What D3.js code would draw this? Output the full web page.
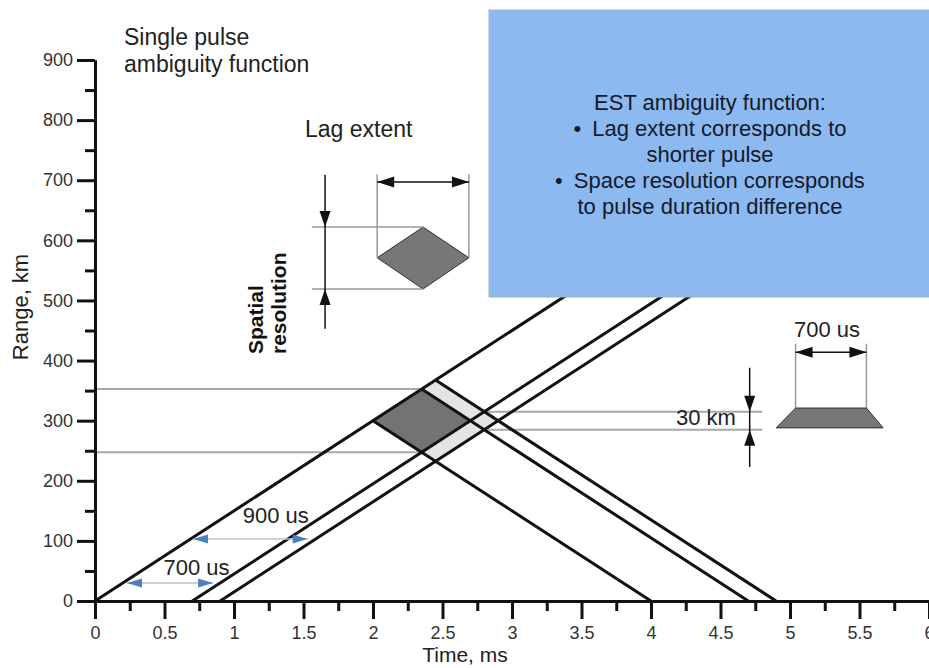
<!doctype html>
<html lang="en">
<head>
<title>EST ambiguity function</title>
<script src="https://d3js.org/d3.v7.min.js"></script>
<style type="text/css">
  body { margin: 0; background: #fff; }
  text { font-family: "Liberation Sans", Arial, sans-serif; }
  .axis path, .axis line { fill: none; stroke: #111; stroke-width: 3px; }
  .axis text { font-family: "Liberation Sans", Arial, sans-serif; font-size: 18px; fill: #333; }
</style>
</head>
<body>
<script type="text/javascript">

// axis ticks
var xMajor = [0, 0.5, 1, 1.5, 2, 2.5, 3, 3.5, 4, 4.5, 5, 5.5, 6];
var xLabels = ["0", "0.5", "1", "1.5", "2", "2.5", "3", "3.5", "4", "4.5", "5", "5.5", "6"];
var xMinor = [0.25, 0.75, 1.25, 1.75, 2.25, 2.75, 3.25, 3.75, 4.25, 4.75, 5.25, 5.75];
var yMajor = [0, 100, 200, 300, 400, 500, 600, 700, 800, 900];
var yMinor = [50, 150, 250, 350, 450, 550, 650, 750, 850];

// pulse lines: [t start, range start, t end, range end]  (ms, km)
var risingLines = [[0, 0, 4.0, 600], [0.7, 0, 4.7, 600], [0.9, 0, 4.9, 600]];
var fallingLines = [[2.0, 300, 4.0, 0], [2.35, 352.5, 4.7, 0], [2.45, 367.5, 4.9, 0]];

// ambiguity cells
var lightCell = [[2.0, 300], [2.45, 367.5], [2.9, 300], [2.45, 232.5]];
var darkCell = [[2.0, 300], [2.35, 352.5], [2.7, 300], [2.35, 247.5]];

// gray reference lines [t0, t1, range]
var refLines = [[0, 2.35, 352.5], [0, 2.35, 247.5], [2.8, 4.8, 315], [2.8, 4.8, 285]];

// single pulse inset
var insetCell = [[2.03, 571], [2.36, 622], [2.69, 571], [2.36, 519]];
var insetVGuides = [[2.03, 571, 710], [2.69, 571, 710]];   // [t, r0, r1]
var insetHGuides = [[1.56, 2.36, 622], [1.56, 2.36, 519]]; // [t0, t1, r]
var lagArrow = [2.03, 2.69, 697];
var spatialArrow = [1.655, 709, 453, 622, 519];            // [t, rTop, rBottom, tipDown, tipUp]

// 700 us pulse sketch
var pulseShape = [[5.04, 321], [5.55, 321], [5.67, 288], [4.90, 288]];
var pulseGuides = [[5.04, 321, 428], [5.55, 321, 428]];
var pulseArrow = [5.04, 5.55, 414];
var kmArrow = [4.71, 388, 223, 315, 285];

// blue duration arrows
var durations = [
  {t0: 0.23, t1: 0.85, r: 30, label: "700 us", lt: 0.73, lr: 43},
  {t0: 0.705, t1: 1.53, r: 103, label: "900 us", lt: 1.3, lr: 130}
];

var boxLines = ["EST ambiguity function:", "\u2022\u2002Lag extent corresponds to", "shorter pulse",
                "\u2022\u2002Space resolution corresponds", "to pulse duration difference"];

var W = 929, H = 668;
var svg = d3.select("body").append("svg").attr("width", W).attr("height", H);

var x = d3.scaleLinear().domain([0, 6]).range([95, 929]);
var y = d3.scaleLinear().domain([0, 900]).range([601, 60]);

function poly(pts) {
  return "M" + pts.map(function(p) { return x(p[0]) + "," + y(p[1]); }).join("L") + "Z";
}

// arrow head with tip at (px,py) pointing in direction dir: "l","r","u","d"
function head(px, py, dir, len, half) {
  var pts;
  if (dir == "l") pts = [[px, py], [px + len, py - half], [px + len, py + half]];
  if (dir == "r") pts = [[px, py], [px - len, py - half], [px - len, py + half]];
  if (dir == "u") pts = [[px, py], [px - half, py + len], [px + half, py + len]];
  if (dir == "d") pts = [[px, py], [px - half, py - len], [px + half, py - len]];
  return "M" + pts.map(function(p) { return p.join(","); }).join("L") + "Z";
}

// cells
svg.append("path").attr("d", poly(lightCell)).attr("fill", "#e4e4e4");
svg.append("path").attr("d", poly(darkCell)).attr("fill", "#737373");

// gray reference lines
svg.selectAll(".ref").data(refLines).enter().append("line")
  .attr("x1", function(d) { return x(d[0]); })
  .attr("x2", function(d) { return x(d[1]); })
  .attr("y1", function(d) { return y(d[2]); })
  .attr("y2", function(d) { return y(d[2]); })
  .attr("stroke", "#a8a8a8").attr("stroke-width", 2);

// black pulse lines
svg.selectAll(".pulse").data(risingLines.concat(fallingLines)).enter().append("line")
  .attr("x1", function(d) { return x(d[0]); })
  .attr("y1", function(d) { return y(d[1]); })
  .attr("x2", function(d) { return x(d[2]); })
  .attr("y2", function(d) { return y(d[3]); })
  .attr("stroke", "#111").attr("stroke-width", 3);

// axes
svg.append("g").attr("class", "axis")
  .attr("transform", "translate(0," + y(0) + ")")
  .call(d3.axisBottom(x).tickValues(xMinor).tickSize(10).tickSizeOuter(0).tickFormat(""));
svg.append("g").attr("class", "axis")
  .attr("transform", "translate(0," + y(0) + ")")
  .call(d3.axisBottom(x).tickValues(xMajor).tickSize(18).tickSizeOuter(0).tickPadding(7)
        .tickFormat(function(d, i) { return xLabels[i]; }));
svg.append("g").attr("class", "axis")
  .attr("transform", "translate(" + x(0) + ",0)")
  .call(d3.axisLeft(y).tickValues(yMinor).tickSize(10).tickSizeOuter(0).tickFormat(""));
svg.append("g").attr("class", "axis")
  .attr("transform", "translate(" + x(0) + ",0)")
  .call(d3.axisLeft(y).tickValues(yMajor).tickSize(18).tickSizeOuter(0).tickPadding(4));

// blue box
svg.append("rect").attr("x", 489).attr("y", 10).attr("width", 450).attr("height", 287)
  .attr("fill", "#8cb9ef").attr("stroke", "#9fb3c9").attr("stroke-width", 1);
svg.append("g").selectAll("text").data(boxLines).enter().append("text")
  .attr("x", 710).attr("y", function(d, i) { return 110 + i * 26; })
  .attr("text-anchor", "middle").attr("font-size", 22).attr("fill", "#141a2c")
  .text(function(d) { return d; });

// single pulse inset
svg.append("path").attr("d", poly(insetCell)).attr("fill", "#777").attr("stroke", "#333").attr("stroke-width", 1);
svg.selectAll(".ivg").data(insetVGuides.concat(pulseGuides)).enter().append("line")
  .attr("x1", function(d) { return x(d[0]); }).attr("x2", function(d) { return x(d[0]); })
  .attr("y1", function(d) { return y(d[1]); }).attr("y2", function(d) { return y(d[2]); })
  .attr("stroke", "#999").attr("stroke-width", 1.5);
svg.selectAll(".ihg").data(insetHGuides).enter().append("line")
  .attr("x1", function(d) { return x(d[0]); }).attr("x2", function(d) { return x(d[1]); })
  .attr("y1", function(d) { return y(d[2]); }).attr("y2", function(d) { return y(d[2]); })
  .attr("stroke", "#999").attr("stroke-width", 1.5);

function hArrow(a, color, width, len, half) {
  var g = svg.append("g");
  g.append("line").attr("x1", x(a[0])).attr("x2", x(a[1])).attr("y1", y(a[2])).attr("y2", y(a[2]))
    .attr("stroke", color).attr("stroke-width", width);
  g.append("path").attr("d", head(x(a[0]), y(a[2]), "l", len, half)).attr("fill", color);
  g.append("path").attr("d", head(x(a[1]), y(a[2]), "r", len, half)).attr("fill", color);
}
hArrow(lagArrow, "#111", 1.5, 17, 5.5);
hArrow(pulseArrow, "#111", 1.5, 17, 5.5);

function vArrow(a) {
  var g = svg.append("g");
  g.append("line").attr("x1", x(a[0])).attr("x2", x(a[0])).attr("y1", y(a[1])).attr("y2", y(a[2]))
    .attr("stroke", "#111").attr("stroke-width", 1.5);
  g.append("path").attr("d", head(x(a[0]), y(a[3]), "d", 16, 5.5)).attr("fill", "#111");
  g.append("path").attr("d", head(x(a[0]), y(a[4]), "u", 16, 5.5)).attr("fill", "#111");
}
vArrow(spatialArrow);
vArrow(kmArrow);

// pulse shape
svg.append("path").attr("d", poly(pulseShape)).attr("fill", "#777").attr("stroke", "#333").attr("stroke-width", 1);

// blue duration arrows
durations.forEach(function(d) {
  svg.append("line").attr("x1", x(d.t0)).attr("x2", x(d.t1)).attr("y1", y(d.r)).attr("y2", y(d.r))
    .attr("stroke", "#b3c3d6").attr("stroke-width", 1.5);
  svg.append("path").attr("d", head(x(d.t0), y(d.r), "l", 15, 4.5)).attr("fill", "#4a7fc0");
  svg.append("path").attr("d", head(x(d.t1), y(d.r), "r", 15, 4.5)).attr("fill", "#4a7fc0");
  svg.append("text").attr("x", x(d.lt)).attr("y", y(d.lr)).attr("text-anchor", "middle")
    .attr("font-size", 22).attr("fill", "#222").text(d.label);
});

// text annotations
function label(tx, ty, s, size, anchor) {
  return svg.append("text").attr("x", tx).attr("y", ty).attr("font-size", size)
    .attr("text-anchor", anchor || "start").attr("fill", "#222").text(s);
}
label(124, 45, "Single pulse", 23);
label(124, 72, "ambiguity function", 23);
label(305, 137, "Lag extent", 23);
label(706, 425, "30 km", 22, "middle");
label(827, 337, "700 us", 22, "middle");
label(465, 662, "Time, ms", 21, "middle");

svg.append("text").attr("transform", "translate(28,307) rotate(-90)")
  .attr("text-anchor", "middle").attr("font-size", 22).attr("fill", "#222").text("Range, km");
svg.append("text").attr("transform", "translate(263,354) rotate(-90)")
  .attr("font-size", 21).attr("font-weight", "bold").attr("fill", "#111").text("Spatial");
svg.append("text").attr("transform", "translate(286,354) rotate(-90)")
  .attr("font-size", 21).attr("font-weight", "bold").attr("fill", "#111").text("resolution");

</script>
</body>
</html>
